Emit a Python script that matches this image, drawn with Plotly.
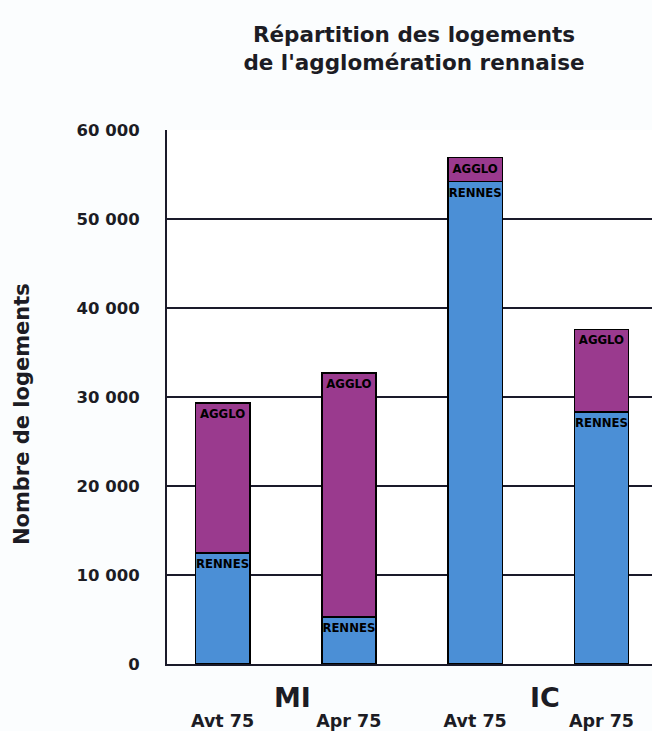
import plotly.graph_objects as go

# Housing stock of the Rennes urban area, by housing type and period
groups = ["MI", "IC"]
periods = ["Avt 75", "Apr 75", "Avt 75", "Apr 75"]
rennes = [12500, 5300, 54200, 28300]
agglo_total = [29300, 32700, 56900, 37600]
agglo = [t - r for t, r in zip(agglo_total, rennes)]

y_ticks = [0, 10000, 20000, 30000, 40000, 50000, 60000]
y_tick_text = ["0", "10 000", "20 000", "30 000", "40 000", "50 000", "60 000"]

x = list(range(len(periods)))
blue = "#4b8fd6"
purple = "#9a3a8e"
ink = "#1c1c24"
wide_bold = "DejaVu Sans"
label_font = dict(family="DejaVu Sans Condensed", size=13, color="black", weight="bold")

fig = go.Figure()
for name, vals, color in [("RENNES", rennes, blue), ("AGGLO", agglo, purple)]:
    fig.add_trace(go.Bar(
        x=x, y=vals, name=name,
        marker=dict(color=color, line=dict(color="black", width=1.6)),
        text=[name] * len(x), textposition="inside", insidetextanchor="end",
        textangle=0, textfont=label_font, constraintext="none", width=0.43,
    ))

fig.update_layout(
    barmode="stack",
    width=652, height=731,
    margin=dict(l=167, r=0, t=130, b=67),
    paper_bgcolor="#fbfdfe", plot_bgcolor="white",
    showlegend=False,
    font=dict(family=wide_bold, color=ink),
    title=dict(
        text="<b>Répartition des logements<br>de l'agglomération rennaise</b>",
        x=0.635, xanchor="center", y=0.942, yanchor="top",
        font=dict(size=21.5, family=wide_bold, color=ink),
    ),
)
fig.update_yaxes(
    range=[0, 60000], tickvals=y_ticks, ticktext=[f"<b>{t}</b>" for t in y_tick_text],
    tickfont=dict(size=16.5, family=wide_bold, color=ink),
    ticklabelstandoff=22, automargin=False,
    showgrid=True, gridcolor="#1a1a2a", gridwidth=2,
    showline=True, linecolor="#1a1a2a", linewidth=2,
    zeroline=False,
)
fig.update_xaxes(
    range=[-0.44, 3.40], tickvals=x, ticktext=[f"<b>{p}</b>" for p in periods],
    tickfont=dict(size=17.5, family=wide_bold, color=ink),
    showline=True, linecolor="#1a1a2a", linewidth=2, automargin=False,
    showgrid=False, ticklabelstandoff=40,
)

# Vertical axis title, placed slightly below the plot's mid-height
fig.add_annotation(
    x=-0.299, xref="paper", y=0.468, yref="paper", xanchor="center", yanchor="middle",
    text="<b>Nombre de logements</b>", textangle=-90, showarrow=False,
    font=dict(size=21, family=wide_bold, color=ink),
)

for i, g in enumerate(groups):
    fig.add_annotation(
        x=2 * i + 0.55, xref="x", y=-0.062, yref="paper", yanchor="middle",
        text=f"<b>{g}</b>", showarrow=False,
        font=dict(size=27, family=wide_bold, color=ink),
    )

fig.write_html("out.html")
